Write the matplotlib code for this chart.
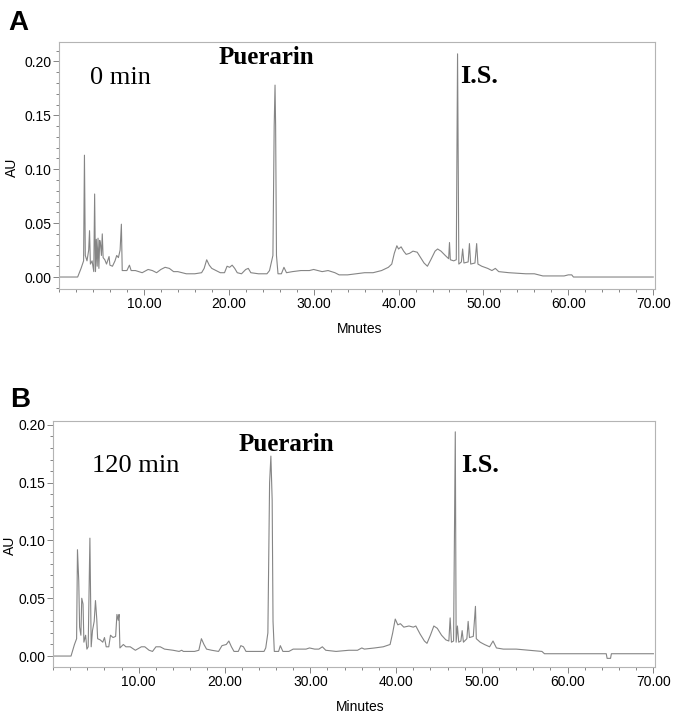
import matplotlib
matplotlib.use("Agg")
import matplotlib.pyplot as plt
from matplotlib.ticker import MultipleLocator, FormatStrFormatter

# DATA  (retention time in minutes, absorbance in AU)
time_a = [0.0, 2.2, 2.6, 2.9, 3.0, 3.1, 3.3, 3.5, 3.6, 3.7, 3.9, 4.1, 4.2, 4.3, 4.4, 4.5,
          4.6, 4.7, 4.8, 4.9, 5.0, 5.1, 5.2, 5.4, 5.6, 5.9, 6.0, 6.3, 6.6, 6.8, 7.0, 7.2,
          7.35, 7.45, 8.0, 8.3, 8.5, 9.0, 9.8, 10.5, 11.0, 11.5, 12.0, 12.5, 13.0, 13.5,
          14.0, 14.5, 15.0, 16.0, 16.8, 17.1, 17.4, 17.7, 18.0, 18.5, 19.0, 19.5, 19.8,
          20.1, 20.4, 20.7, 21.0, 21.5, 22.0, 22.3, 22.6, 23.5, 24.5, 24.8, 25.2, 25.35,
          25.45, 25.52, 25.62, 25.8, 26.2, 26.5, 26.8, 27.5, 28.5, 29.5, 30.0, 30.5, 31.0,
          31.7, 32.5, 33.0, 34.0, 35.0, 36.0, 37.0, 38.0, 38.8, 39.2, 39.5, 39.8, 40.0,
          40.3, 40.6, 40.9, 41.3, 41.7, 42.2, 42.6, 43.0, 43.4, 43.8, 44.3, 44.6, 45.0,
          45.5, 45.9, 46.0, 46.1, 46.5, 46.8, 46.95, 47.1, 47.4, 47.55, 47.7, 48.2, 48.35,
          48.5, 49.0, 49.2, 49.35, 49.8, 50.5, 51.0, 51.4, 51.8, 53.0, 55.0, 56.0, 56.5,
          57.0, 58.0, 59.5, 60.0, 60.4, 60.6, 70.0]
au_a = [0.0, 0.0, 0.008, 0.015, 0.113, 0.02, 0.015, 0.025, 0.043, 0.012, 0.015, 0.005, 0.077,
        0.005, 0.035, 0.010, 0.036, 0.008, 0.034, 0.030, 0.02, 0.040, 0.018, 0.016, 0.012,
        0.019, 0.011, 0.010, 0.015, 0.020, 0.018, 0.025, 0.049, 0.006, 0.006, 0.011, 0.006,
        0.006, 0.004, 0.007, 0.006, 0.004, 0.007, 0.009, 0.008, 0.005, 0.005, 0.004, 0.003,
        0.003, 0.004, 0.008, 0.016, 0.011, 0.008, 0.006, 0.004, 0.004, 0.010, 0.009, 0.011,
        0.008, 0.004, 0.003, 0.007, 0.008, 0.004, 0.003, 0.003, 0.006, 0.020, 0.140, 0.178,
        0.140, 0.020, 0.003, 0.003, 0.009, 0.004, 0.005, 0.006, 0.006, 0.007, 0.006, 0.005,
        0.006, 0.004, 0.002, 0.002, 0.003, 0.004, 0.004, 0.006, 0.009, 0.012, 0.022, 0.029,
        0.026, 0.028, 0.024, 0.021, 0.022, 0.024, 0.023, 0.018, 0.013, 0.010, 0.016, 0.024,
        0.026, 0.024, 0.020, 0.017, 0.032, 0.016, 0.015, 0.016, 0.207, 0.012, 0.014, 0.026,
        0.013, 0.014, 0.031, 0.012, 0.013, 0.031, 0.012, 0.010, 0.008, 0.006, 0.008, 0.005,
        0.004, 0.003, 0.003, 0.002, 0.001, 0.001, 0.001, 0.002, 0.002, 0.000, 0.000]

time_b = [0.0, 2.1, 2.5, 2.75, 2.85, 3.0, 3.1, 3.25, 3.35, 3.5, 3.6, 3.8, 3.95, 4.1, 4.3,
          4.45, 4.6, 4.8, 4.95, 5.1, 5.2, 5.5, 5.8, 6.0, 6.2, 6.5, 6.7, 7.0, 7.3, 7.45, 7.6,
          7.7, 7.8, 8.2, 8.5, 9.0, 9.6, 10.3, 10.7, 11.2, 11.6, 12.0, 12.5, 13.0, 14.0, 14.7,
          15.0, 15.2, 16.5, 17.0, 17.3, 17.6, 17.9, 18.5, 19.3, 19.7, 20.2, 20.5, 20.8, 21.1,
          21.6, 21.9, 22.2, 22.5, 24.0, 24.6, 24.8, 25.05, 25.25, 25.4, 25.55, 25.65, 25.8,
          26.3, 26.5, 26.8, 27.5, 28.0, 29.5, 29.9, 30.5, 31.0, 31.4, 31.8, 33.0, 34.5, 35.5,
          36.0, 36.3, 37.5, 38.5, 39.3, 39.6, 39.9, 40.2, 40.5, 40.9, 41.5, 42.0, 42.3, 42.8,
          43.3, 43.6, 44.0, 44.4, 44.8, 45.3, 45.8, 46.15, 46.3, 46.45, 46.7, 46.9, 47.0,
          47.15, 47.3, 47.55, 47.7, 47.85, 48.25, 48.4, 48.55, 49.0, 49.25, 49.35, 49.8,
          50.3, 50.9, 51.3, 51.7, 52.5, 54.0, 55.5, 57.0, 57.3, 60.0, 64.5, 64.6, 65.0,
          65.1, 70.0]
au_b = [0.0, 0.0, 0.010, 0.015, 0.092, 0.065, 0.025, 0.018, 0.050, 0.045, 0.012, 0.018, 0.006,
        0.008, 0.102, 0.008, 0.022, 0.030, 0.048, 0.032, 0.015, 0.014, 0.012, 0.016, 0.008,
        0.008, 0.018, 0.016, 0.017, 0.036, 0.031, 0.036, 0.007, 0.010, 0.008, 0.008, 0.005,
        0.008, 0.008, 0.005, 0.004, 0.008, 0.008, 0.006, 0.005, 0.004, 0.005, 0.004, 0.004,
        0.005, 0.015, 0.010, 0.006, 0.005, 0.004, 0.009, 0.010, 0.013, 0.008, 0.004, 0.004,
        0.009, 0.008, 0.004, 0.004, 0.004, 0.007, 0.020, 0.150, 0.173, 0.135, 0.030, 0.004,
        0.004, 0.009, 0.004, 0.004, 0.006, 0.006, 0.007, 0.006, 0.006, 0.008, 0.005, 0.004,
        0.005, 0.005, 0.007, 0.006, 0.007, 0.008, 0.010, 0.020, 0.032, 0.027, 0.028, 0.025,
        0.026, 0.025, 0.026, 0.019, 0.013, 0.011, 0.018, 0.026, 0.024, 0.018, 0.014, 0.013,
        0.033, 0.012, 0.013, 0.194, 0.012, 0.026, 0.012, 0.013, 0.022, 0.012, 0.015, 0.030,
        0.016, 0.017, 0.043, 0.015, 0.012, 0.010, 0.008, 0.013, 0.007, 0.006, 0.006, 0.005,
        0.004, 0.002, 0.002, 0.002, -0.002, -0.002, 0.002, 0.002]

panels = ["A", "B"]
sample_labels = ["0 min", "120 min"]
x_labels = ["Mnutes", "Minutes"]

LINE = "#858585"
FRAME = "#b4b4b4"


def style_axes(ax, ylim):
    ax.set_xlim(0, 70.2)
    ax.set_ylim(*ylim)
    ax.xaxis.set_minor_locator(MultipleLocator(2))
    ax.yaxis.set_major_locator(MultipleLocator(0.05))
    ax.yaxis.set_minor_locator(MultipleLocator(0.01))
    ax.set_xticks([10, 20, 30, 40, 50, 60, 70])
    ax.xaxis.set_major_formatter(FormatStrFormatter("%.2f"))
    ax.yaxis.set_major_formatter(FormatStrFormatter("%.2f"))
    for sp in ax.spines.values():
        sp.set_color(FRAME)
        sp.set_linewidth(0.8)
    ax.tick_params(which="both", direction="out", colors="#707070",
                   labelcolor="black", labelsize=10, width=0.6)
    ax.tick_params(which="major", length=4, pad=1.5)
    ax.tick_params(which="minor", length=2.5)
    for lab in ax.get_xticklabels() + ax.get_yticklabels():
        lab.set_family("Liberation Sans")


fig = plt.figure(figsize=(6.85, 7.24), dpi=100)

ax_a = fig.add_axes([0.0861, 0.601, 0.870, 0.341])
ax_a.plot(time_a, au_a, color=LINE, lw=0.8)
style_axes(ax_a, (-0.011, 0.218))
ax_a.text(3.7, 0.185, sample_labels[0], family="Liberation Serif", fontsize=19,
          ha="left", va="center")
ax_a.text(24.4, 0.204, "Puerarin", family="Liberation Serif", fontsize=18,
          fontweight="bold", ha="center", va="center")
ax_a.text(47.3, 0.186, "I.S.", family="Liberation Serif", fontsize=19,
          fontweight="bold", ha="left", va="center")

ax_b = fig.add_axes([0.0774, 0.0787, 0.879, 0.340])
ax_b.plot(time_b, au_b, color=LINE, lw=0.8)
style_axes(ax_b, (-0.0095, 0.2035))
ax_b.text(4.5, 0.1645, sample_labels[1], family="Liberation Serif", fontsize=19,
          ha="left", va="center")
ax_b.text(27.2, 0.1827, "Puerarin", family="Liberation Serif", fontsize=18,
          fontweight="bold", ha="center", va="center")
ax_b.text(47.6, 0.1645, "I.S.", family="Liberation Serif", fontsize=19,
          fontweight="bold", ha="left", va="center")

# axis titles and panel letters
fig.text(12 / 685, 1 - 167 / 724, "AU", rotation=90, family="Liberation Sans",
         fontsize=10, ha="center", va="center")
fig.text(10 / 685, 1 - 545 / 724, "AU", rotation=90, family="Liberation Sans",
         fontsize=10, ha="center", va="center")
fig.text(360 / 685, 1 - 329 / 724, x_labels[0], family="Liberation Sans",
         fontsize=10, ha="center", va="center")
fig.text(360 / 685, 1 - 707 / 724, x_labels[1], family="Liberation Sans",
         fontsize=10, ha="center", va="center")
fig.text(18 / 685, 1 - 23 / 724, panels[0], family="Liberation Sans", fontsize=20,
         fontweight="bold", ha="center", va="center")
fig.text(20 / 685, 1 - 400 / 724, panels[1], family="Liberation Sans", fontsize=20,
         fontweight="bold", ha="center", va="center")

fig.savefig("out.png", dpi=100, facecolor="white")
